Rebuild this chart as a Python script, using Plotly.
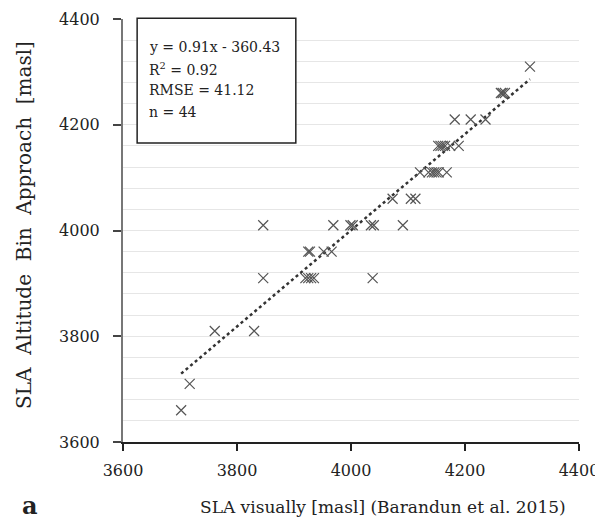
import plotly.graph_objects as go

# SLA visually (x) and SLA Altitude Bin Approach (y), masl
sla_visual = [3702, 3717, 3761, 3830,
              3846, 3920, 3925, 3930, 3935, 4038,
              3925, 3928, 3952, 3966,
              3846, 3969, 3999, 4003, 4035, 4040, 4091,
              4073, 4105, 4113,
              4121, 4136, 4142, 4146, 4150, 4154, 4168,
              4153, 4157, 4161, 4165, 4174, 4189,
              4182, 4210, 4236,
              4263, 4266, 4270,
              4314]
sla_bin = [3660, 3710, 3810, 3810,
           3910, 3910, 3910, 3910, 3910, 3910,
           3960, 3960, 3960, 3960,
           4010, 4010, 4010, 4010, 4010, 4010, 4010,
           4060, 4060, 4060,
           4110, 4110, 4110, 4110, 4110, 4110, 4110,
           4160, 4160, 4160, 4160, 4160, 4160,
           4210, 4210, 4210,
           4260, 4260, 4260,
           4310]

trend_slope = 0.91
trend_intercept = 360.43
trend_x = [min(sla_visual), max(sla_visual)]
trend_y = [trend_slope * v + trend_intercept for v in trend_x]

tick_vals = [3600, 3800, 4000, 4200, 4400]
stats_lines = ["y = 0.91x - 360.43", "R<sup>2</sup> = 0.92", "RMSE = 41.12", "n = 44"]

FONT = "DejaVu Serif"
TXT = "#222222"

fig = go.Figure()
fig.add_trace(go.Scatter(
    x=trend_x, y=trend_y, mode="lines",
    line=dict(color="#333333", width=2.5, dash="dot"),
    hoverinfo="skip", showlegend=False))
fig.add_trace(go.Scatter(
    x=sla_visual, y=sla_bin, mode="markers",
    marker=dict(symbol="x-thin-open", size=10, color="#555555",
                line=dict(color="#555555", width=1.2)),
    showlegend=False))

fig.update_layout(
    width=603, height=529,
    margin=dict(l=115, r=32, t=11, b=95),
    plot_bgcolor="white", paper_bgcolor="white",
    font=dict(family=FONT, size=16, color=TXT),
    xaxis=dict(range=[3600, 4400], tickvals=tick_vals, showgrid=False,
               showline=True, linecolor="#222222", linewidth=1.5,
               ticks="outside", ticklen=7, tickcolor="#222222", tickwidth=1.5,
               zeroline=False, tickfont=dict(size=16), automargin=False,
               ticklabelstandoff=6),
    yaxis=dict(range=[3600, 4400], tickvals=tick_vals, showgrid=True,
               gridcolor="#e6e6e6", gridwidth=1,
               minor=dict(dtick=40, tick0=3600, showgrid=True, gridcolor="#e6e6e6", gridwidth=1),
               showline=True, linecolor="#777777", linewidth=2,
               ticks="outside", ticklen=8, tickcolor="#444444", tickwidth=1.5,
               zeroline=False, tickfont=dict(size=16), automargin=False,
               ticklabelstandoff=10),
)

# axis titles
fig.add_annotation(xref="paper", yref="paper", x=(383 - 123) / 456, y=-(507 - 442) / 423,
                   xanchor="center", yanchor="middle", showarrow=False,
                   text="SLA visually [masl] (Barandun et al. 2015)",
                   font=dict(family=FONT, size=17, color=TXT))
fig.add_annotation(xref="paper", yref="paper", x=(24 - 123) / 456, y=(442 - 225) / 423,
                   xanchor="center", yanchor="middle", showarrow=False, textangle=-90,
                   text="SLA&nbsp; Altitude&nbsp; Bin&nbsp; Approach&nbsp; [masl]",
                   font=dict(family=FONT, size=20, color=TXT))

fig.add_shape(type="rect", xref="paper", yref="paper",
              x0=0.031, x1=0.379, y0=0.707, y1=1.002,
              line=dict(color="#222222", width=1.5), fillcolor="white", layer="above")
for line, py in zip(stats_lines, [47, 69, 90, 112]):
    fig.add_annotation(xref="paper", yref="paper", x=0.052, y=(442 - py) / 423,
                       xanchor="left", yanchor="middle", align="left", showarrow=False,
                       text=line, font=dict(family=FONT, size=14, color=TXT))
fig.add_annotation(xref="paper", yref="paper", x=(30 - 123) / 456, y=-(505 - 442) / 423,
                   xanchor="center", yanchor="middle", showarrow=False,
                   text="<b>a</b>", font=dict(family=FONT, size=24, color=TXT))

fig.write_html("out.html")
